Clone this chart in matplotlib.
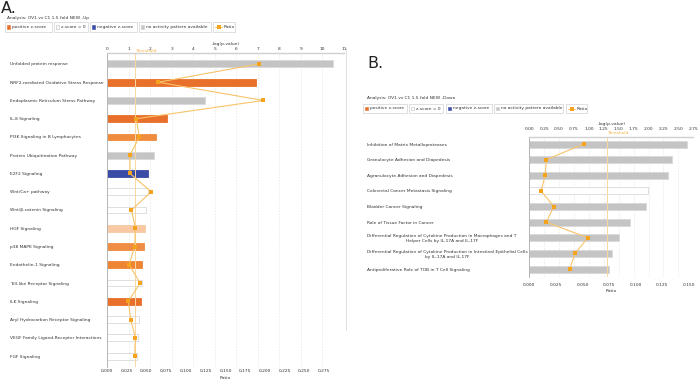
import matplotlib
matplotlib.use("Agg")
import matplotlib.pyplot as plt
from matplotlib.patches import Rectangle
from matplotlib.transforms import offset_copy
import numpy as np

plt.rcParams['font.family'] = ['DejaVu Sans']

W, H = 700, 388

# ---- panel A data (upregulated) ----
pathways_a = ['Unfolded protein response',
              'NRF2-mediated Oxidative Stress Response',
              'Endoplasmic Reticulum Stress Pathway',
              'IL-8 Signaling',
              'PI3K Signaling in B Lymphocytes',
              'Protein Ubiquitination Pathway',
              'E2F2 Signaling',
              'Wnt/Ca+ pathway',
              'Wnt/β-catenin Signaling',
              'HGF Signaling',
              'p38 MAPK Signaling',
              'Endothelin-1 Signaling',
              'Toll-like Receptor Signaling',
              'ILK Signaling',
              'Aryl Hydrocarbon Receptor Signaling',
              'VEGF Family Ligand-Receptor Interactions',
              'FGF Signaling']
logp_a = [10.5, 6.92, 4.57, 2.78, 2.29, 2.18, 1.90, 1.92, 1.82, 1.78,
          1.72, 1.64, 1.61, 1.56, 1.48, 1.42, 1.41]
ratio_a = [0.192, 0.065, 0.198, 0.037, 0.041, 0.029, 0.029, 0.056, 0.031,
           0.036, 0.035, 0.028, 0.042, 0.027, 0.030, 0.036, 0.035]
colors_a = ['#c4c4c4', '#e8702a', '#c4c4c4', '#e8702a', '#f08c3e', '#c4c4c4',
            '#3b4ca6', 'white', 'white', '#f8c9a2', '#ef8d42', '#ee8534',
            'white', '#e8702a', 'white', 'white', 'white']

# ---- panel B data (downregulated) ----
pathways_b = ['Inhibition of Matrix Metalloproteases',
              'Granulocyte Adhesion and Diapedesis',
              'Agranulocyte Adhesion and Diapedesis',
              'Colorectal Cancer Metastasis Signaling',
              'Bladder Cancer Signaling',
              'Role of Tissue Factor in Cancer',
              'Differential Regulation of Cytokine Production in Macrophages and T\nHelper Cells by IL-17A and IL-17F',
              'Differential Regulation of Cytokine Production in Intestinal Epithelial Cells\nby IL-17A and IL-17F',
              'Antiproliferative Role of TOB in T Cell Signaling']
logp_b = [2.65, 2.40, 2.32, 1.99, 1.96, 1.69, 1.50, 1.39, 1.33]
ratio_b = [0.051, 0.016, 0.015, 0.011, 0.023, 0.016, 0.055, 0.043, 0.038]
colors_b = ['#c4c4c4', '#c4c4c4', '#c4c4c4', 'white', '#c4c4c4', '#c4c4c4',
            '#c4c4c4', '#c4c4c4', '#c4c4c4']

threshold = 1.3
legend_labels = ['positive z-score', 'z-score = 0', 'negative z-score',
                 'no activity pattern available', 'Ratio']

FS = 3.2
ORANGE_LINE = '#f7c46a'
ORANGE_MARK = '#f5a21c'
TXT = '#333333'

fig = plt.figure(figsize=(W / 100, H / 100), dpi=100)
fig.patch.set_facecolor('white')

ov = fig.add_axes([0, 0, 1, 1])
ov.set_xlim(0, W)
ov.set_ylim(H, 0)
ov.axis('off')
ov.patch.set_alpha(0)


def px_axes(x0, y0, x1, y1):
    return fig.add_axes([x0 / W, 1 - y1 / H, (x1 - x0) / W, (y1 - y0) / H])


def legend_row(boxes, y0, y1):
    sw = ['#e8702a', 'white', '#3b4ca6', '#c8c8c8']
    yc = (y0 + y1) / 2
    for i, ((xa, xb), lab) in enumerate(zip(boxes, legend_labels)):
        ov.add_patch(Rectangle((xa, y0), xb - xa, y1 - y0, fc='white',
                               ec='#d2d2d2', lw=0.5))
        if i < 4:
            ov.add_patch(Rectangle((xa + 2, yc - 1.6), 3.2, 3.2, fc=sw[i],
                                   ec='#bdbdbd' if i == 1 else sw[i], lw=0.4))
            ov.text(xa + 7, yc, lab, fontsize=FS, va='center', ha='left', color=TXT)
        else:
            ov.plot([xa + 2, xa + 9], [yc, yc], color=ORANGE_LINE, lw=0.7)
            ov.plot([xa + 5.5], [yc], 's', color=ORANGE_MARK, ms=2.2, mew=0)
            ov.text(xa + 11, yc, lab, fontsize=FS, va='center', ha='left', color=TXT)


def panel(box, labels, logp, ratio, colors, ylim, xmax, xticks, xtick_labels,
          rmax, rticks, rtick_labels, label_pad, top_pad, bot_pad, bar_h, thr_dy):
    ax = px_axes(*box)
    axr = ax.twiny()
    n = len(labels)
    ys = np.arange(n)
    edges = ['#d9d9d9' if c in ('#c4c4c4', 'white') else c for c in colors]
    ax.barh(ys, logp, height=bar_h, color=colors, edgecolor=edges, lw=0.6, zorder=2)
    ax.axvline(threshold, color='#fad7a0', lw=0.7, zorder=2.5)
    ax.set_xlim(0, xmax)
    ax.set_ylim(*ylim)
    ax.xaxis.tick_top()
    ax.xaxis.set_label_position('top')
    ax.set_xticks(xticks, labels=xtick_labels)
    ax.set_xlabel('-log(p-value)', fontsize=FS, color=TXT, labelpad=1.5)
    ax.tick_params(axis='x', length=0, labelsize=FS, labelcolor=TXT, pad=top_pad)
    ax.set_yticks(ys, labels=labels)
    ax.tick_params(axis='y', length=0, labelsize=FS, labelcolor=TXT, pad=label_pad)
    for t in ax.get_yticklabels():
        t.set_ha('left')
        t.set_multialignment('center')
    ax.grid(axis='x', ls=(0, (2, 2)), color='#e4e4e4', lw=0.5, zorder=0)
    ax.set_axisbelow(True)
    for s in ('right', 'bottom'):
        ax.spines[s].set_visible(False)
    ax.spines['left'].set_color('#b5b5b5')
    ax.spines['left'].set_linewidth(0.7)
    ax.spines['top'].set_color('#d0d0d0')
    ax.spines['top'].set_linewidth(1.0)
    tr = offset_copy(ax.get_xaxis_transform(), fig=fig, y=thr_dy, units='dots')
    ax.text(threshold, 1.0, 'Threshold', transform=tr,
            fontsize=FS, color='#f5b342', ha='left', va='center', clip_on=False)

    axr.xaxis.tick_bottom()
    axr.xaxis.set_label_position('bottom')
    axr.set_xlim(0, rmax)
    axr.set_xticks(rticks, labels=rtick_labels)
    axr.tick_params(axis='x', length=0, labelsize=FS, labelcolor=TXT, pad=bot_pad)
    axr.set_xlabel('Ratio', fontsize=FS, color=TXT, labelpad=2)
    for s in axr.spines.values():
        s.set_visible(False)
    axr.plot(ratio, ys, color=ORANGE_LINE, lw=0.8, zorder=3)
    axr.plot(ratio, ys, 's', color=ORANGE_MARK, ms=2.8, mew=0, zorder=4)
    return ax


# panel A
ov.text(1, 1, 'A.', fontsize=11.5, va='top', ha='left', color='#222222')
ov.text(7, 17.5, 'Analysis: OV1 vs C1 1.5 fold NEW -Up', fontsize=FS, va='center',
        ha='left', color=TXT)
legend_row([(5, 52), (54, 88), (90, 137), (139, 211), (213, 235)], 22.3, 31.7)
ticks_a = np.arange(0, 12)
rticks_a = np.arange(0, 0.2751, 0.025)
panel((107, 53, 344, 367), pathways_a, logp_a, ratio_a, colors_a, (16.6, -0.6),
      11, ticks_a, [str(t) for t in ticks_a], 0.30, rticks_a,
      [f'{t:.3f}'.replace('.', ',') for t in rticks_a],
      label_pad=(107 - 10) * 0.72, top_pad=1.5, bot_pad=1.5, bar_h=0.38, thr_dy=1.5)

# divider
ov.plot([346, 346], [48, 330], color='#dcdcdc', lw=0.6)

# panel B
ov.text(367, 64, 'B.', fontsize=11.5, va='center', ha='left', color='#222222')
ov.text(367, 98, 'Analysis: OV1 vs C1 1.5 fold NEW -Down', fontsize=FS,
        va='center', ha='left', color=TXT)
legend_row([(363, 407), (409, 443), (446, 492), (494, 563), (566, 587)], 104, 113)
ticks_b = np.arange(0, 2.751, 0.25)
rticks_b = np.arange(0, 0.1501, 0.025)
panel((529.3, 137, 693.3, 277), pathways_b, logp_b, ratio_b, colors_b, (8.51, -0.45),
      2.75, ticks_b, [f'{t:.2f}' for t in ticks_b], 0.1541, rticks_b,
      [f'{t:.3f}' for t in rticks_b],
      label_pad=(529.3 - 367) * 0.72, top_pad=4.5, bot_pad=4, bar_h=0.45, thr_dy=4.5)

fig.savefig('out.png', dpi=100, facecolor='white')
